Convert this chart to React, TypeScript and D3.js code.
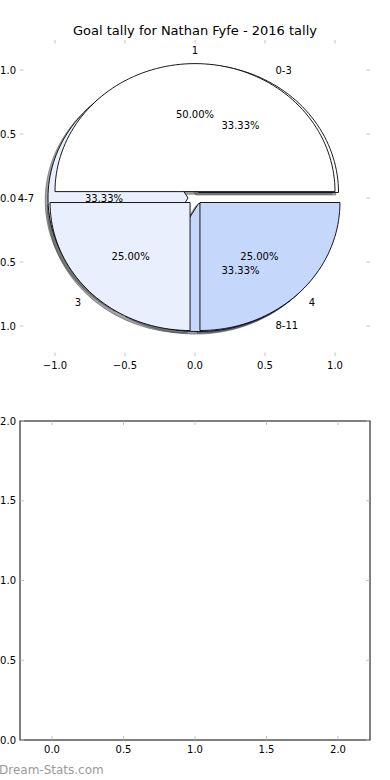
import * as d3 from "d3";

// pie 1: goals per game
const goalLabels = ["1", "3", "4"];
const goalValues = [2, 1, 1];
// pie 2: quarters
const quarterLabels = ["0-3", "4-7", "8-11"];
const quarterValues = [1, 1, 1];
const wedgeColors = ["#ffffff", "#e9effc", "#c5d7fb"];
const explode = 0.05;

const pieTicks = [-1, -0.5, 0, 0.5, 1];
const barXTicks = [0, 0.5, 1, 1.5, 2];
const barYTicks = [0, 0.5, 1, 1.5, 2];

const W = 390;
const H = 780;
const FONT = "DejaVu Sans, sans-serif";
const TICK = "#c4c4c4";

const top = { left: 20, right: 370, top: 40, bottom: 356 };
const bot = { left: 20, right: 370, top: 421, bottom: 740 };

const px = d3.scaleLinear().domain([-1, 1]).range([55, 335]);
const py = d3.scaleLinear().domain([-1, 1]).range([326, 70]);
const bx = d3.scaleLinear().domain([-0.224, 2.224]).range([bot.left, bot.right]);
const by = d3.scaleLinear().domain([0, 2]).range([bot.bottom, bot.top]);

const line = d3.line<[number, number]>().x((d) => px(d[0])).y((d) => py(d[1]));

type Wedge = {
  label: string;
  pct: number;
  t1: number;
  t2: number;
  cx: number;
  cy: number;
  color: string;
};

function layout(labels: string[], values: number[]): Wedge[] {
  const total = d3.sum(values);
  const arcs = d3.pie<number>().sort(null)(values);
  return arcs.map((a, i) => {
    const t1 = (a.startAngle / (2 * Math.PI)) * 360;
    const t2 = (a.endAngle / (2 * Math.PI)) * 360;
    const m = (((t1 + t2) / 2) * Math.PI) / 180;
    return {
      label: labels[i],
      pct: (values[i] / total) * 100,
      t1,
      t2,
      cx: explode * Math.cos(m),
      cy: explode * Math.sin(m),
      color: wedgeColors[i % wedgeColors.length],
    };
  });
}

function wedgePath(w: Wedge, ox = 0, oy = 0) {
  const n = Math.max(4, Math.ceil((w.t2 - w.t1) / 2));
  const pts: [number, number][] = [[w.cx + ox, w.cy + oy]];
  for (let i = 0; i <= n; i++) {
    const t = ((w.t1 + ((w.t2 - w.t1) * i) / n) * Math.PI) / 180;
    pts.push([w.cx + ox + Math.cos(t), w.cy + oy + Math.sin(t)]);
  }
  return line(pts) + "Z";
}

function shadowColor(c: string) {
  const r = d3.rgb(c);
  return `rgba(${Math.round(r.r * 0.3)},${Math.round(r.g * 0.3)},${Math.round(r.b * 0.3)},0.5)`;
}

const quarterPie = layout(quarterLabels, quarterValues);
const goalPie = layout(goalLabels, goalValues);
const allPies = [quarterPie, goalPie];

export default function App() {
  const texts: JSX.Element[] = [];
  allPies.forEach((pie, pi) =>
    pie.forEach((w, i) => {
      const m = (((w.t1 + w.t2) / 2) * Math.PI) / 180;
      const lx = w.cx + 1.1 * Math.cos(m);
      const ly = w.cy + 1.1 * Math.sin(m);
      const anchor = Math.abs(lx) < 1e-6 ? "middle" : lx > 0 ? "start" : "end";
      texts.push(
        <text key={`l${pi}${i}`} x={px(lx)} y={py(ly)} textAnchor={anchor} dominantBaseline="central">
          {w.label}
        </text>
      );
      texts.push(
        <text
          key={`p${pi}${i}`}
          x={px(w.cx + 0.6 * Math.cos(m))}
          y={py(w.cy + 0.6 * Math.sin(m))}
          textAnchor="middle"
          dominantBaseline="central"
        >
          {w.pct.toFixed(2) + "%"}
        </text>
      );
    })
  );

  const fmt = (v: number) => d3.format(".1f")(v).replace("-", "\u2212");

  return (
    <svg
      width={W}
      height={H}
      style={{ position: "absolute", left: 0, top: 0, background: "#fff" }}
      fontFamily={FONT}
      fontSize={10}
    >
      <rect width={W} height={H} fill="#fff" />
      <text x={195} y={30} textAnchor="middle" dominantBaseline="central" fontSize={13}>
        Goal tally for Nathan Fyfe - 2016 tally
      </text>

      {/* pie axes ticks (frame hidden) */}
      <g stroke={TICK} strokeWidth={1}>
        {pieTicks.map((t) => (
          <g key={`pt${t}`}>
            <line x1={px(t)} x2={px(t)} y1={top.top} y2={top.top + 3.5} />
            <line x1={px(t)} x2={px(t)} y1={top.bottom} y2={top.bottom - 3.5} />
            <line x1={top.left} x2={top.left + 3.5} y1={py(t)} y2={py(t)} />
            <line x1={top.right} x2={top.right - 3.5} y1={py(t)} y2={py(t)} />
          </g>
        ))}
      </g>
      <g>
        {pieTicks.map((t) => (
          <g key={`ptl${t}`}>
            <text x={px(t)} y={top.bottom + 9} textAnchor="middle" dominantBaseline="central">
              {fmt(t)}
            </text>
            <text x={top.left - 4} y={py(t)} textAnchor="end" dominantBaseline="central">
              {fmt(t)}
            </text>
          </g>
        ))}
      </g>

      {/* shadows */}
      {allPies.map((pie, pi) =>
        pie.map((w, i) => (
          <path
            key={`s${pi}${i}`}
            d={wedgePath(w, -0.02, -0.02)}
            fill={shadowColor(w.color)}
            stroke={shadowColor(w.color)}
            strokeWidth={1}
          />
        ))
      )}
      {/* wedges */}
      {allPies.map((pie, pi) =>
        pie.map((w, i) => (
          <path key={`w${pi}${i}`} d={wedgePath(w)} fill={w.color} stroke="#000" strokeWidth={0.9} strokeLinejoin="miter" />
        ))
      )}
      <g fill="#000">{texts}</g>

      {/* empty second axes */}
      <rect
        x={bot.left}
        y={bot.top}
        width={bot.right - bot.left}
        height={bot.bottom - bot.top}
        fill="none"
        stroke="#000"
        strokeWidth={1}
      />
      <g stroke={TICK} strokeWidth={1}>
        {barXTicks.map((t) => (
          <g key={`bx${t}`}>
            <line x1={bx(t)} x2={bx(t)} y1={bot.top + 0.5} y2={bot.top + 4} />
            <line x1={bx(t)} x2={bx(t)} y1={bot.bottom - 0.5} y2={bot.bottom - 4} />
          </g>
        ))}
        {barYTicks.map((t) => (
          <g key={`by${t}`}>
            <line x1={bot.left + 0.5} x2={bot.left + 4} y1={by(t)} y2={by(t)} />
            <line x1={bot.right - 0.5} x2={bot.right - 4} y1={by(t)} y2={by(t)} />
          </g>
        ))}
      </g>
      {barXTicks.map((t) => (
        <text key={`bxl${t}`} x={bx(t)} y={bot.bottom + 9} textAnchor="middle" dominantBaseline="central">
          {fmt(t)}
        </text>
      ))}
      {barYTicks.map((t) => (
        <text key={`byl${t}`} x={bot.left - 4} y={by(t)} textAnchor="end" dominantBaseline="central">
          {fmt(t)}
        </text>
      ))}

      <text x={-1} y={770} dominantBaseline="central" fontSize={12} fill="#9a9a9a">
        Dream-Stats.com
      </text>
    </svg>
  );
}
